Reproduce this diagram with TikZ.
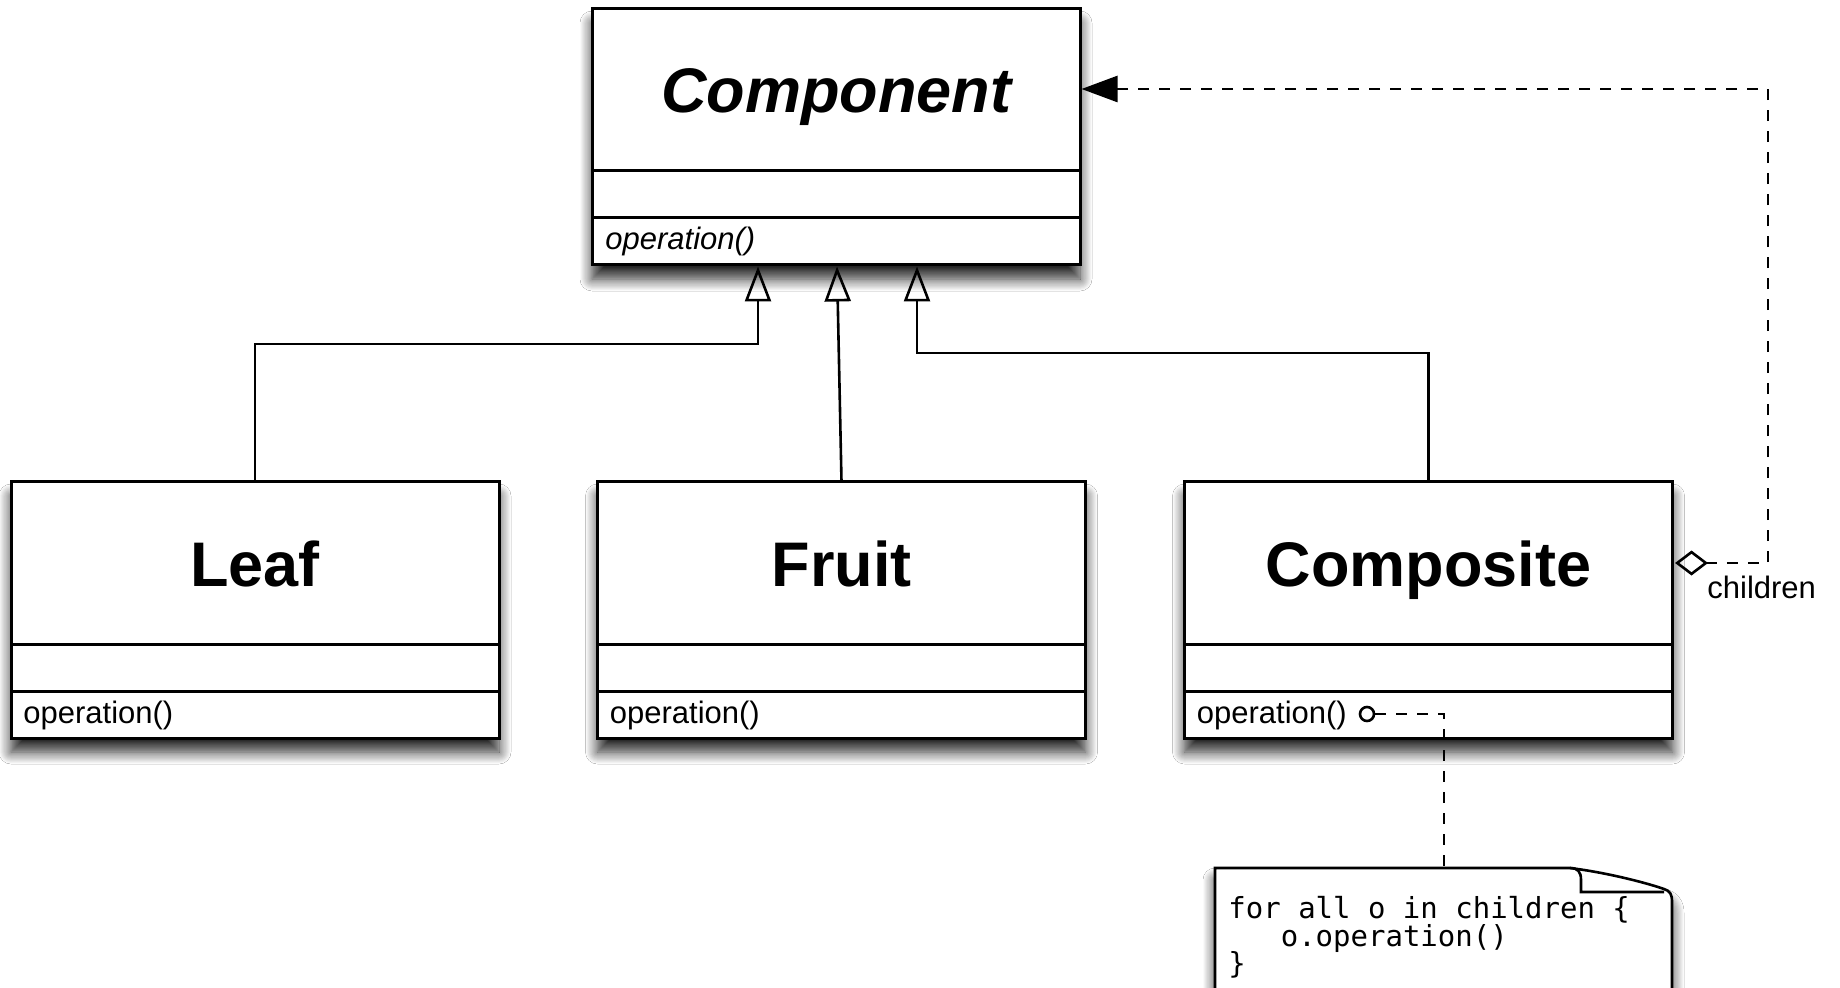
\documentclass[tikz,border=0pt]{standalone}
\usepackage{fontspec}
\setmainfont{Liberation Sans}
\newfontfamily\codefont{DejaVu Sans Mono}
\usetikzlibrary{arrows.meta,calc,shadows.blur}
\begin{document}
\begin{tikzpicture}[x=0.5pt,y=-0.5pt,
  classbox/.style={draw, line width=1.5pt, fill=white, minimum width=244pt, minimum height=128pt,
    inner sep=0pt, outer sep=0pt,
    blur shadow={shadow xshift=0pt, shadow yshift=-7pt, shadow blur radius=6pt, shadow blur steps=12, shadow opacity=85}},
  divline/.style={line width=1.5pt},
  namefont/.style={font=\fontsize{31.5pt}{36pt}\selectfont\bfseries, inner sep=0pt},
  opfont/.style={font=\fontsize{15.5pt}{18pt}\selectfont, inner sep=0pt},
  inh/.style={line width=1.3pt, -{Triangle[open,length=17.5pt,width=13pt]}},
  dashline/.style={line width=1.3pt, dash pattern=on 5.5pt off 5pt},
  notebox/.style={draw, line width=1.3pt, fill=white,
    blur shadow={shadow xshift=0pt, shadow yshift=-6pt, shadow blur radius=6pt, shadow blur steps=12, shadow opacity=85}},
  codetext/.style={font=\codefont\fontsize{14.5pt}{14pt}\selectfont, inner sep=0pt, anchor=base west}
]
\useasboundingbox (0,0) rectangle (1840,988);
\fill[white] (0,0) rectangle (1840,988);

% class boxes
\node[classbox] (comp)  at (836,137) {};
\node[classbox] (leaf)  at (255,610) {};
\node[classbox] (fruit) at (841.5,610) {};
\node[classbox] (cmpst) at (1428.5,610) {};

\foreach \n in {comp,leaf,fruit,cmpst}{
  \draw[divline] ($(\n.north west)+(0,162)$) -- ($(\n.north east)+(0,162)$);
  \draw[divline] ($(\n.north west)+(0,209)$) -- ($(\n.north east)+(0,209)$);
}

% names
\node[namefont, anchor=base] (compname)  at ($(comp.north)+(0,104)$)  {\itshape Component};
\node[namefont, anchor=base] (leafname)  at ($(leaf.north)+(0,104)$)  {Leaf};
\node[namefont, anchor=base] (fruitname) at ($(fruit.north)+(0,104)$) {Fruit};
\node[namefont, anchor=base] (cmpstname) at ($(cmpst.north)+(0,104)$) {Composite};

% operations
\node[opfont, anchor=base west] (compop)  at ($(comp.north west)+(13,241)$)  {\itshape operation()};
\node[opfont, anchor=base west] (leafop)  at ($(leaf.north west)+(12,241)$)  {operation()};
\node[opfont, anchor=base west] (fruitop) at ($(fruit.north west)+(12,241)$) {operation()};
\node[opfont, anchor=base west] (cmpstop) at ($(cmpst.north west)+(12,241)$) {operation()};

% inheritance
\coordinate (t1) at (758,266.5);
\coordinate (t2) at (837,266.5);
\coordinate (t3) at (917,266.5);
\draw[inh] (leaf.north) |- (758,344) -- (t1);
\draw[inh] (fruit.north) -- (t2);
\draw[inh] (cmpst.north) |- (917,353) -- (t3);

% aggregation
\coordinate (aggA) at (1675,563);
\coordinate (aggB) at (1081.5,89);
\draw[dashline, {Diamond[open,length=16.5pt,width=12.5pt,line width=1.3pt]}-{Triangle[length=18pt,width=13pt]}]
  (aggA) -- (1768,563) -- (1768,89) -- (aggB);
\node[opfont, anchor=base west] (childlbl) at (1707,598) {children};

% note
\path[notebox] (1215,1010) -- (1215,868) -- (1570,868)
  .. controls (1610,873) and (1650,884) .. (1664,889)
  .. controls (1670,891) and (1672,894) .. (1672,902) -- (1672,1010) -- cycle;
\draw[line width=1.3pt] (1570,868) .. controls (1578,868) and (1581,872) .. (1581,880) -- (1581,892) -- (1664,892);

\node[codetext] (code1) at (1228,918) {for all o in children \{};
\node[codetext] (code2) at (1228,946) {\hphantom{ooo}o.operation()};
\node[codetext] (code3) at (1228,973) {\}};

% note link
\node[draw, circle, line width=1.3pt, fill=white, minimum size=7pt, inner sep=0pt] (opcirc) at (1367,714) {};
\coordinate (ntop) at (1444,868);
\draw[dashline] (opcirc.east) -- (1444,714) -- (ntop);
\end{tikzpicture}
\end{document}
